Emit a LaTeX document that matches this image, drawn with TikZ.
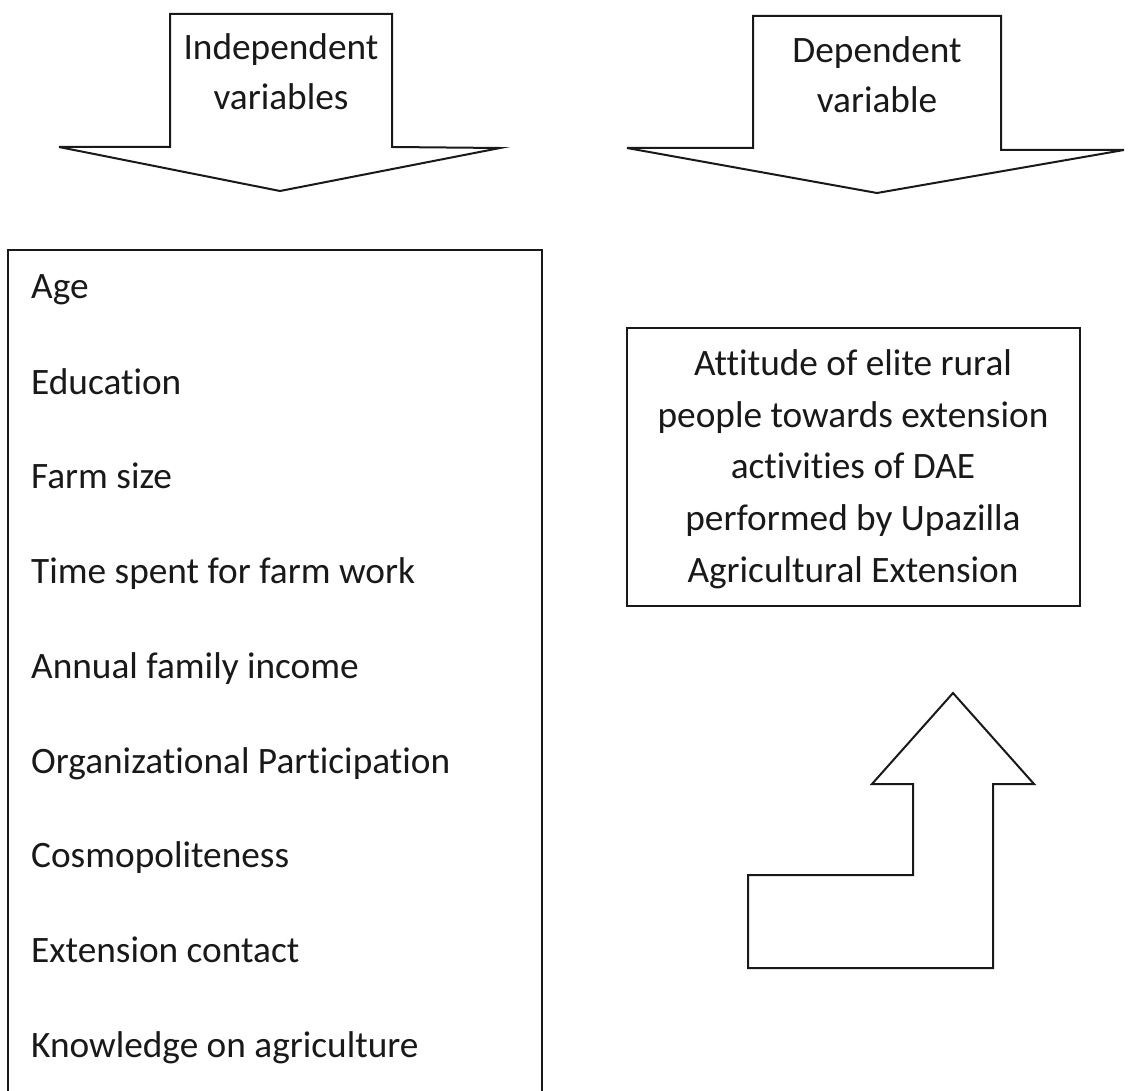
\documentclass[tikz,border=0pt]{standalone}
\usepackage{fontspec}
\setmainfont{Carlito}[Ligatures={NoCommon}]
\begin{document}
\begin{tikzpicture}[x=1pt,y=-1pt,
  shapeline/.style={draw=black!90, line width=2pt, line join=miter},
  lbl/.style={inner sep=0pt, font=\fontsize{37.3}{44}\selectfont, text=black!90},
  item/.style={lbl, anchor=base west}]
\useasboundingbox[fill=white] (0,0) rectangle (1130,1091);
% top-left down arrow
\draw[shapeline] (170,14) -- (392,14) -- (392,147) -- (500,148) -- (280,191) -- (59,147) -- (170,147) -- cycle;
\node[lbl, anchor=base] (indep1) at (281,60) {Independent};
\node[lbl, anchor=base] (indep2) at (281,110) {variables};
% top-right down arrow
\draw[shapeline] (753,16) -- (1001,16) -- (1001,150) -- (1124,150) -- (877,193) -- (627,148) -- (753,148) -- cycle;
\node[lbl, anchor=base] (dep1) at (877,63) {Dependent};
\node[lbl, anchor=base] (dep2) at (877,113) {variable};
% left box
\draw[shapeline] (8,1100) -- (8,250) -- (542,250) -- (542,1100);
\node[item] (v1) at (31,299) {Age};
\node[item] (v2) at (31,394) {Education};
\node[item] (v3) at (31,488) {Farm size};
\node[item] (v4) at (31,583) {Time spent for farm work};
\node[item] (v5) at (31,678) {Annual family income};
\node[item] (v6) at (31,773) {Organizational Participation};
\node[item] (v7) at (31,867) {Cosmopoliteness};
\node[item] (v8) at (31,962) {Extension contact};
\node[item] (v9) at (31,1057) {Knowledge on agriculture};
% right box
\draw[shapeline] (627,328) rectangle (1080,606);
\node[lbl, anchor=base] (att1) at (853,375) {Attitude of elite rural};
\node[lbl, anchor=base] (att2) at (853,427) {people towards extension};
\node[lbl, anchor=base] (att3) at (853,478) {activities of DAE};
\node[lbl, anchor=base] (att4) at (853,530) {performed by Upazilla};
\node[lbl, anchor=base] (att5) at (853,582) {Agricultural Extension};
% bent up arrow
\draw[shapeline] (953,693) -- (1034,784) -- (993,784) -- (993,968) -- (748,968) -- (748,875) -- (913,875) -- (913,784) -- (872,784) -- cycle;
\end{tikzpicture}
\end{document}
